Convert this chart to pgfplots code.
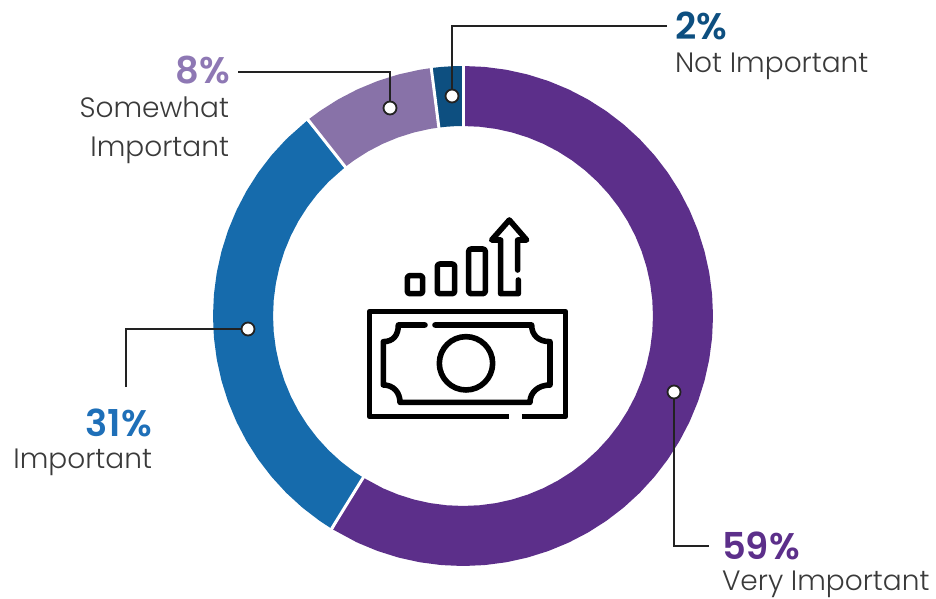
\documentclass[border=0pt]{standalone}
\usepackage{fontspec}
\setmainfont{Poppins}[UprightFont=* Light,BoldFont=* SemiBold]
\usepackage{pgfplots}
\pgfplotsset{compat=1.18}

\definecolor{vimp}{HTML}{5C2F8A}
\definecolor{imp}{HTML}{166BAC}
\definecolor{some}{HTML}{8872A8}
\definecolor{notimp}{HTML}{0D4F80}
\definecolor{sometxt}{HTML}{8E78B4}
\definecolor{imptxt}{HTML}{1E6FB8}
\definecolor{lbl}{HTML}{3A3A3A}
\definecolor{lead}{HTML}{222222}

% value / name labels, anchored on the baseline
\newcommand{\pct}[1]{{\fontsize{37}{37}\selectfont\bfseries #1}}
\newcommand{\nm}[1]{{\fontsize{28}{28}\selectfont #1}}
\tikzset{lab/.style={inner sep=0pt,outer sep=0pt}}

\begin{document}
\begin{tikzpicture}[x=1pt,y=1pt]
\path[use as bounding box] (0,0) rectangle (936,598);
\begin{axis}[
    at={(0,0)},
    anchor=south west,
    scale only axis,
    width=936pt,
    height=598pt,
    xmin=-463, xmax=473,
    ymin=-282, ymax=316,
    hide axis,
    clip=false,
    ringpart/.style={line width=60pt,line cap=butt,line join=round,no marks,data cs=polar},
    gap/.style={white,line width=3pt,line cap=butt,no marks,data cs=polar},
    leader/.style={lead,line width=2.4pt,no marks,line join=miter},
]
% ring, angle and radius; 59, 31, 8 and 2 percent clockwise from the top
\addplot[ringpart,vimp] coordinates {
 (90,220) (85,220) (80,220) (75,220) (70,220) (65,220) (60,220) (55,220) (50,220) (45,220)
 (40,220) (35,220) (30,220) (25,220) (20,220) (15,220) (10,220) (5,220) (0,220)
 (-5,220) (-10,220) (-15,220) (-20,220) (-25,220) (-30,220) (-35,220) (-40,220) (-45,220)
 (-50,220) (-55,220) (-60,220) (-65,220) (-70,220) (-75,220) (-80,220) (-85,220) (-90,220)
 (-95,220) (-100,220) (-105,220) (-110,220) (-115,220) (-121.7,220)};
\addplot[ringpart,imp] coordinates {
 (238.3,220) (235,220) (230,220) (225,220) (220,220) (215,220) (210,220) (205,220) (200,220)
 (195,220) (190,220) (185,220) (180,220) (175,220) (170,220) (165,220) (160,220) (155,220)
 (150,220) (145,220) (140,220) (135,220) (128.3,220)};
\addplot[ringpart,some] coordinates {
 (128.3,220) (125,220) (120,220) (115,220) (110,220) (105,220) (100,220) (97.3,220)};
\addplot[ringpart,notimp] coordinates {(97.3,220) (95,220) (92.5,220) (90,220)};
% white gaps between the slices
\addplot[gap] coordinates {(90,188) (90,252)};
\addplot[gap] coordinates {(97.3,188) (97.3,252)};
\addplot[gap] coordinates {(128.3,188) (128.3,252)};
\addplot[gap] coordinates {(-121.7,188) (-121.7,252)};
% leader lines
\addplot[leader] coordinates {(-225,244) (-73,244) (-73,208)};
\addplot[leader] coordinates {(204,290) (-11,290) (-11,220)};
\addplot[leader] coordinates {(-337,-71) (-337,-13) (-215,-13)};
\addplot[leader] coordinates {(211,-76) (211,-230) (246,-230)};
% dots on the ring
\addplot[only marks,mark=*,mark size=6.5pt,mark options={fill=white,draw=lead,line width=1.8pt}]
  coordinates {(-73,208) (-11,220) (-215,-13) (211,-76)};
% labels
\node[lab,anchor=base west,text=notimp] at (212,276) {\pct{2\%}};
\node[lab,anchor=base west,text=lbl] at (212,243) {\nm{Not Important}};
\node[lab,anchor=base east,text=sometxt] at (-233,232) {\pct{8\%}};
\node[lab,anchor=base east,text=lbl] at (-234,198) {\nm{Somewhat}};
\node[lab,anchor=base east,text=lbl] at (-234,159) {\nm{Important}};
\node[lab,anchor=base east,text=imptxt] at (-311,-120) {\pct{31\%}};
\node[lab,anchor=base east,text=lbl] at (-311,-152) {\nm{Important}};
\node[lab,anchor=base west,text=vimp] at (259,-243) {\pct{59\%}};
\node[lab,anchor=base west,text=lbl] at (259,-274.5) {\nm{Very Important}};
\end{axis}
% money and growth icon in the middle of the ring
\begin{scope}[shift={(350,393)},x=0.3333pt,y=-0.3333pt,black,line width=5.6pt,line join=round]
\draw (516,634) -- (647,634) -- (647,320) -- (58,320) -- (58,634) -- (476,634);
\draw[line cap=round] (225,360) -- (145,360) .. controls (145,390) and (130,410) .. (100,410)
  -- (100,540) .. controls (130,540) and (150,562) .. (150,592) -- (540,592)
  .. controls (540,562) and (565,540) .. (600,540) -- (600,410)
  .. controls (565,410) and (545,390) .. (545,360) -- (255,360);
\draw (348,475) circle (80);
\draw[rounded corners=2.5pt] (172,266) rectangle (218,212);
\draw[rounded corners=2.5pt] (262,266) rectangle (314,177);
\draw[rounded corners=2.5pt] (356,266) rectangle (406,132);
\draw[line cap=round] (505,225) -- (505,266) -- (452,266) -- (452,105) -- (425,105) -- (478,45)
  -- (530,105) -- (503,105) -- (503,195);
\end{scope}
\end{tikzpicture}
\end{document}
